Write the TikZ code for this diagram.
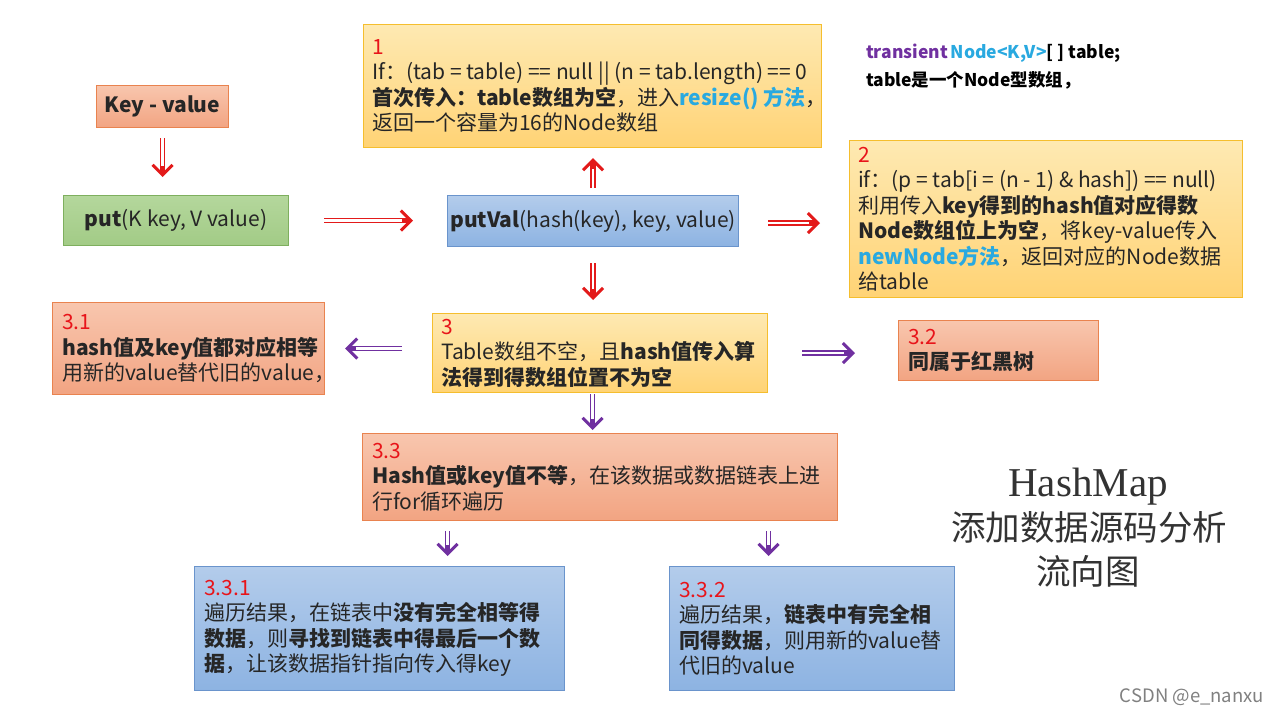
\documentclass[tikz,border=0pt]{standalone}
\usepackage{fontspec}
\setmainfont{Noto Sans CJK SC}
\newfontfamily\titleserif{Liberation Serif}
\usetikzlibrary{arrows.meta}
\definecolor{txtc}{HTML}{262626}
\definecolor{numred}{HTML}{E8141A}
\definecolor{cy}{HTML}{29A9E0}
\definecolor{purp}{HTML}{7030A0}
\definecolor{arred}{HTML}{E31A1A}
\definecolor{yt}{HTML}{FEE9B2}
\definecolor{yb}{HTML}{FFD375}
\definecolor{ybord}{HTML}{F5BE2E}
\definecolor{st}{HTML}{F8C6AE}
\definecolor{sb}{HTML}{F2A482}
\definecolor{sbord}{HTML}{E9834F}
\definecolor{bt}{HTML}{B3CCEB}
\definecolor{bb}{HTML}{8DB3E2}
\definecolor{bbord}{HTML}{6A94CC}
\definecolor{gt}{HTML}{B4D79C}
\definecolor{gb}{HTML}{A2CB86}
\definecolor{gbord}{HTML}{7EAF5E}
\newcommand{\bodyfont}{\fontsize{21}{25.5}\selectfont\color{txtc}}
\newcommand{\nm}[1]{\textcolor{numred}{#1}}
\tikzset{
  box/.style={draw, line width=1.1pt, anchor=north west, inner sep=0pt},
  ybox/.style={box, draw=ybord, top color=yt, bottom color=yb},
  sbox/.style={box, draw=sbord, top color=st, bottom color=sb},
  bbox/.style={box, draw=bbord, top color=bt, bottom color=bb},
  gbox/.style={box, draw=gbord, top color=gt, bottom color=gb},
  txt/.style={anchor=west, align=left, inner sep=0pt, font=\bodyfont},
  ctxt/.style={align=center, inner sep=0pt, font=\bodyfont},
  dblarrow/.style={line width=5.2pt,
    -{Straight Barb[length=10pt, width=20pt, line width=3pt]},
    shorten >=#1,
    postaction={draw=white, line width=2.2pt, -, shorten >=#1+11pt}},
  rarr/.style={draw=arred, dblarrow=#1},
  parr/.style={draw=purp, dblarrow=#1},
}
\begin{document}
\begin{tikzpicture}[x=1pt, y=-1pt]
\useasboundingbox[fill=white] (0,0) rectangle (1280,720);

% boxes
\node[sbox, minimum width=132pt, minimum height=42pt] (kv) at (96,85) {};
\node[ctxt] (kvt) at (kv.center) {\textbf{Key - value}};
\node[gbox, minimum width=225pt, minimum height=50pt] (put) at (63,195) {};
\node[ctxt] (putt) at (put.center) {\textbf{put}(K key, V value)};
\node[bbox, minimum width=291pt, minimum height=51pt] (pv) at (447,195) {};
\node[ctxt] (pvt) at (pv.center) {\textbf{putVal}(hash(key), key, value)};

\node[ybox, minimum width=458pt, minimum height=123pt] (b1) at (363,24) {};
\node[txt] (b1t) at ([xshift=9pt]b1.west) {\nm{1}\\
If：(tab = table) == null || (n = tab.length) == 0\\
\textbf{首次传入：table数组为空}，进入\textcolor{cy}{\textbf{resize() 方法}}，\\
返回一个容量为16的Node数组};

\node[ybox, minimum width=393pt, minimum height=157pt] (b2) at (849,140) {};
\node[txt] (b2t) at ([xshift=9pt]b2.west) {\nm{2}\\
if：(p = tab[i = (n - 1) \& hash]) == null)\\
利用传入\textbf{key得到的hash值对应得数}\\
\textbf{Node数组位上为空}，将key-value传入\\
\textcolor{cy}{\textbf{newNode方法}}，返回对应的Node数据\\
给table};

\node[sbox, minimum width=272pt, minimum height=92pt] (b31) at (52,302) {};
\node[txt] (b31t) at ([xshift=10pt]b31.west) {\nm{3.1}\\
\textbf{hash值及key值都对应相等}\\
用新的value替代旧的value，};

\node[ybox, minimum width=335pt, minimum height=79pt] (b3) at (432,313) {};
\node[txt] (b3t) at ([xshift=9pt]b3.west) {\nm{3}\\
Table数组不空，且\textbf{hash值传入算}\\
\textbf{法得到得数组位置不为空}};

\node[sbox, minimum width=200pt, minimum height=60pt] (b32) at (898,320) {};
\node[txt] (b32t) at ([xshift=10pt]b32.west) {\nm{3.2}\\
\textbf{同属于红黑树}};

\node[sbox, minimum width=475pt, minimum height=87pt] (b33) at (362,433) {};
\node[txt] (b33t) at ([xshift=10pt]b33.west) {\nm{3.3}\\
\textbf{Hash值或key值不等}，在该数据或数据链表上进\\
行for循环遍历};

\node[bbox, minimum width=370pt, minimum height=124pt] (b331) at (194,566) {};
\node[txt] (b331t) at ([xshift=10pt]b331.west) {\nm{3.3.1}\\
遍历结果，在链表中\textbf{没有完全相等得}\\
\textbf{数据}，则\textbf{寻找到链表中得最后一个数}\\
\textbf{据}，让该数据指针指向传入得key};

\node[bbox, minimum width=285pt, minimum height=124pt] (b332) at (669,566) {};
\node[txt] (b332t) at ([xshift=10pt]b332.west) {\nm{3.3.2}\\
遍历结果，\textbf{链表中有完全相}\\
\textbf{同得数据}，则用新的value替\\
代旧的value};

% top-right note
\node[anchor=west, align=left, inner sep=0pt, font=\fontsize{17.5}{28}\selectfont\bfseries] (note) at (866,67)
 {\textcolor{purp}{transient}\,\textcolor{cy}{Node<K,V>}[ ] table;\\ table是一个Node型数组，};

% title
\node[inner sep=0pt, font=\titleserif\fontsize{41}{41}\selectfont, text=black!80] (ti1) at (1088,487) {HashMap};
\node[inner sep=0pt, font=\fontsize{34.5}{34.5}\selectfont, text=black!80] (ti2) at (1089,527) {添加数据源码分析};
\node[inner sep=0pt, font=\fontsize{34.5}{34.5}\selectfont, text=black!80] (ti3) at (1088,571) {流向图};

\node[inner sep=0pt, font=\fontsize{18.5}{18.5}\selectfont, text=black!50] (wm) at (1192,697) {CSDN @e\_nanxu};

% arrows
\draw[rarr=18pt, shorten <=10pt] (kv.south) -- (kv.south |- put.north);
\draw[rarr=34pt, shorten <=35pt] (put.east) -- (put.east -| pv.west);
\draw[rarr=10pt, shorten <=7pt] (pv.north) -- (pv.north |- b1.south);
\draw[rarr=29pt, shorten <=29pt] ([yshift=-2pt]pv.east) -- ([yshift=-2pt]pv.east -| b2.west);
\draw[rarr=13pt, shorten <=16pt] (pv.south) -- (pv.south |- b3.north);
\draw[parr=20pt, shorten <=30pt] (b31.east -| b3.west) -- (b31.east);
\draw[parr=43pt, shorten <=34pt] (b3.east) -- (b3.east -| b32.west);
\draw[parr=3pt, shorten <=1pt] ([xshift=-7.5pt]b3.south) -- ([xshift=-7.5pt]b3.south |- b33.north);
\draw[parr=10pt, shorten <=10pt] ([xshift=-152.5pt]b33.south) -- ([xshift=-152.5pt]b33.south |- b331.north);
\draw[parr=10pt, shorten <=10pt] ([xshift=168.5pt]b33.south) -- ([xshift=168.5pt]b33.south |- b332.north);
\end{tikzpicture}
\end{document}
